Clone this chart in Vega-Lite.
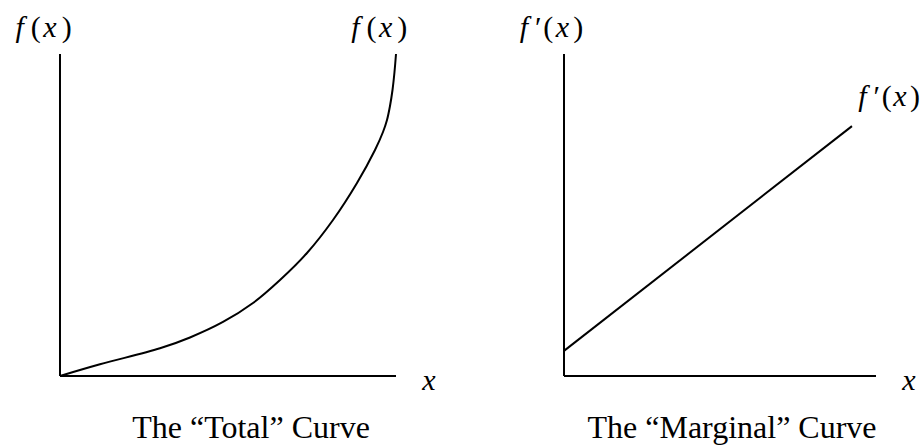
{
  "$schema": "https://vega.github.io/schema/vega-lite/v6.json",
  "padding": 0,
  "spacing": 0,
  "background": "white",
  "config": {"view": {"stroke": null}, "concat": {"spacing": 0}},
  "datasets": {
    "axes1": [{"x": 0, "y": 0, "x2": 0, "y2": 10}, {"x": 0, "y": 0, "x2": 10, "y2": 0}],
    "axes2": [{"x": 0, "y": 0, "x2": 0, "y2": 10}, {"x": 0, "y": 0, "x2": 10, "y2": 0}],
    "total": [
      {"x": 0, "y": 0},
      {"x": 1.19, "y": 0.363},
      {"x": 2.976, "y": 0.86},
      {"x": 3.869, "y": 1.196},
      {"x": 4.851, "y": 1.677},
      {"x": 5.744, "y": 2.267},
      {"x": 6.548, "y": 2.981},
      {"x": 7.351, "y": 3.82},
      {"x": 8.125, "y": 4.845},
      {"x": 8.839, "y": 5.994},
      {"x": 9.375, "y": 7.019},
      {"x": 9.613, "y": 7.578},
      {"x": 9.732, "y": 7.95},
      {"x": 9.821, "y": 8.385},
      {"x": 9.896, "y": 8.882},
      {"x": 9.955, "y": 9.441},
      {"x": 10, "y": 10}
    ],
    "marginal": [{"x": 0, "y": 0.78}, {"x": 9.23, "y": 7.76}],
    "italic1": [
      {"x": -1.199, "y": 10.53, "t": "f"},
      {"x": -0.298, "y": 10.53, "t": "x"},
      {"x": 8.789, "y": 10.53, "t": "f"},
      {"x": 9.69, "y": 10.53, "t": "x"},
      {"x": 10.98, "y": -0.435, "t": "x"}
    ],
    "upright1": [
      {"x": -0.72, "y": 10.53, "t": "("},
      {"x": 0.199, "y": 10.53, "t": ")"},
      {"x": 9.268, "y": 10.53, "t": "("},
      {"x": 10.188, "y": 10.53, "t": ")"}
    ],
    "title1": [{"x": 5.685, "y": -1.925, "t": "The “Total” Curve"}],
    "italic2": [
      {"x": -1.282, "y": 10.53, "t": "f"},
      {"x": -0.048, "y": 10.53, "t": "x"},
      {"x": 9.567, "y": 8.385, "t": "f"},
      {"x": 10.769, "y": 8.385, "t": "x"},
      {"x": 11.058, "y": -0.435, "t": "x"}
    ],
    "upright2": [
      {"x": -0.824, "y": 10.53, "t": "′"},
      {"x": -0.503, "y": 10.53, "t": "("},
      {"x": 0.458, "y": 10.53, "t": ")"},
      {"x": 10.022, "y": 8.385, "t": "′"},
      {"x": 10.343, "y": 8.385, "t": "("},
      {"x": 11.25, "y": 8.385, "t": ")"}
    ],
    "title2": [{"x": 5.385, "y": -1.925, "t": "The “Marginal” Curve"}]
  },
  "hconcat": [
    {
      "width": 461,
      "height": 446,
      "encoding": {
        "x": {"field": "x", "type": "quantitative", "axis": null, "scale": {"domain": [-1.7857, 11.9345], "nice": false, "zero": false}},
        "y": {"field": "y", "type": "quantitative", "axis": null, "scale": {"domain": [-2.174, 11.677], "nice": false, "zero": false}}
      },
      "layer": [
        {
          "data": {"name": "axes1"},
          "mark": {"type": "rule", "color": "black", "strokeWidth": 2},
          "encoding": {"x2": {"field": "x2"}, "y2": {"field": "y2"}}
        },
        {
          "data": {"name": "total"},
          "mark": {"type": "line", "color": "black", "strokeWidth": 2, "interpolate": "catmull-rom"}
        },
        {
          "data": {"name": "italic1"},
          "mark": {"type": "text", "font": "Liberation Serif", "fontSize": 30, "fontStyle": "italic", "align": "center", "baseline": "alphabetic", "color": "black"},
          "encoding": {"text": {"field": "t"}}
        },
        {
          "data": {"name": "upright1"},
          "mark": {"type": "text", "font": "Liberation Serif", "fontSize": 30, "align": "center", "baseline": "alphabetic", "color": "black"},
          "encoding": {"text": {"field": "t"}}
        },
        {
          "data": {"name": "title1"},
          "mark": {"type": "text", "font": "Liberation Serif", "fontSize": 32, "align": "center", "baseline": "alphabetic", "color": "black"},
          "encoding": {"text": {"field": "t"}}
        }
      ]
    },
    {
      "width": 461,
      "height": 446,
      "encoding": {
        "x": {"field": "x", "type": "quantitative", "axis": null, "scale": {"domain": [-3.3013, 11.4744], "nice": false, "zero": false}},
        "y": {"field": "y", "type": "quantitative", "axis": null, "scale": {"domain": [-2.174, 11.677], "nice": false, "zero": false}}
      },
      "layer": [
        {
          "data": {"name": "axes2"},
          "mark": {"type": "rule", "color": "black", "strokeWidth": 2},
          "encoding": {"x2": {"field": "x2"}, "y2": {"field": "y2"}}
        },
        {
          "data": {"name": "marginal"},
          "mark": {"type": "line", "color": "black", "strokeWidth": 2}
        },
        {
          "data": {"name": "italic2"},
          "mark": {"type": "text", "font": "Liberation Serif", "fontSize": 30, "fontStyle": "italic", "align": "center", "baseline": "alphabetic", "color": "black"},
          "encoding": {"text": {"field": "t"}}
        },
        {
          "data": {"name": "upright2"},
          "mark": {"type": "text", "font": "Liberation Serif", "fontSize": 30, "align": "center", "baseline": "alphabetic", "color": "black"},
          "encoding": {"text": {"field": "t"}}
        },
        {
          "data": {"name": "title2"},
          "mark": {"type": "text", "font": "Liberation Serif", "fontSize": 32, "align": "center", "baseline": "alphabetic", "color": "black"},
          "encoding": {"text": {"field": "t"}}
        }
      ]
    }
  ]
}
